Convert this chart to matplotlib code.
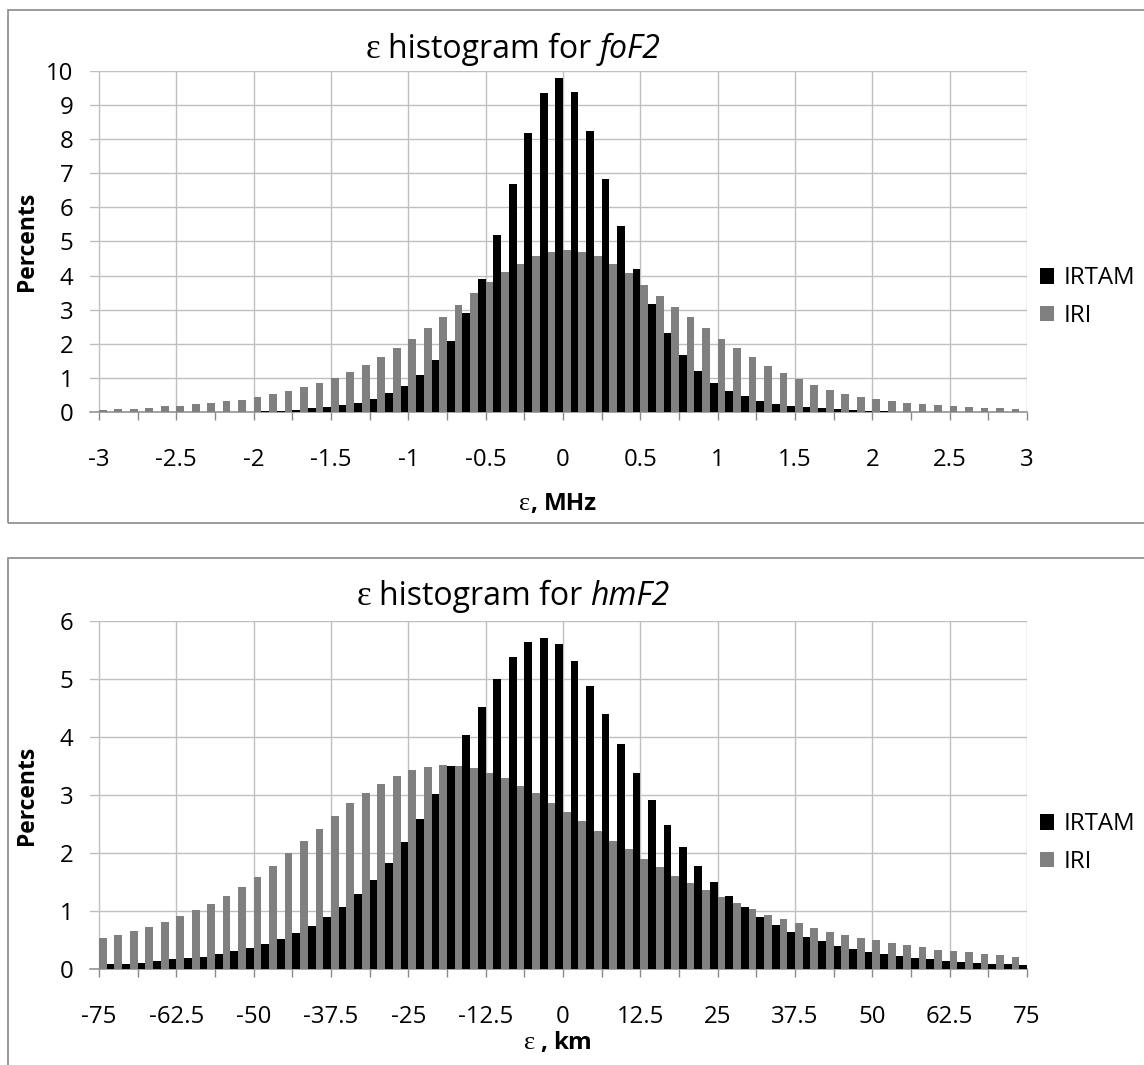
"""Two-panel error histograms (foF2 and hmF2) for IRTAM vs IRI."""

import numpy as np
import matplotlib
matplotlib.use('Agg')
import matplotlib.pyplot as plt
from matplotlib.patches import Rectangle

plt.rcParams['font.family'] = ['Open Sans', 'DejaVu Sans']

# --- data (percent of cases per bin) ---
fof2_bins = np.linspace(-3, 3, 61)  # bin centres, MHz
fof2_irtam = [0, 0, 0, 0, 0, 0, 0, 0.01, 0.01,
              0.02, 0.02, 0.04, 0.05, 0.07, 0.12, 0.15, 0.20, 0.27, 0.39, 0.56,
              0.77, 1.09, 1.52, 2.10, 2.90, 3.91, 5.19, 6.69, 8.17, 9.34,
              9.79,
              9.37, 8.23, 6.84, 5.44, 4.20, 3.16, 2.32, 1.68, 1.21, 0.87,
              0.62, 0.48, 0.34, 0.24, 0.19, 0.16, 0.12, 0.09, 0.07, 0.04,
              0.03, 0.02, 0.01, 0.01, 0.01, 0, 0, 0, 0, 0]
fof2_iri = [0.07, 0.10, 0.10, 0.13, 0.17, 0.19, 0.23, 0.27, 0.32, 0.36,
            0.45, 0.54, 0.62, 0.74, 0.85, 1.00, 1.18, 1.39, 1.63, 1.87,
            2.16, 2.47, 2.80, 3.14, 3.48, 3.80, 4.11, 4.35, 4.58, 4.68,
            4.75, 4.70, 4.58, 4.33, 4.07, 3.73, 3.40, 3.07, 2.78, 2.47,
            2.16, 1.87, 1.61, 1.37, 1.14, 0.97, 0.79, 0.66, 0.55, 0.45,
            0.39, 0.32, 0.27, 0.23, 0.21, 0.17, 0.15, 0.13, 0.13, 0.10,
            0.05]
fof2_ticklabels = ['-3', '-2.5', '-2', '-1.5', '-1', '-0.5', '0',
                   '0.5', '1', '1.5', '2', '2.5', '3']

hmf2_bins = np.linspace(-75, 75, 61)  # bin centres, km
hmf2_irtam = [0, 0.10, 0.10, 0.11, 0.14, 0.17, 0.20, 0.22, 0.26, 0.31,
              0.36, 0.44, 0.53, 0.62, 0.75, 0.90, 1.08, 1.30, 1.54, 1.84,
              2.19, 2.59, 3.03, 3.50, 4.04, 4.53, 5.01, 5.39, 5.65, 5.71,
              5.61, 5.31, 4.89, 4.41, 3.89, 3.39, 2.92, 2.48, 2.11, 1.78,
              1.50, 1.27, 1.08, 0.91, 0.77, 0.65, 0.56, 0.48, 0.41, 0.35,
              0.29, 0.26, 0.23, 0.19, 0.18, 0.15, 0.13, 0.11, 0.10, 0.09,
              0.08]
hmf2_iri = [0.54, 0.60, 0.66, 0.73, 0.81, 0.92, 1.02, 1.12, 1.27, 1.42,
            1.59, 1.78, 2.00, 2.21, 2.42, 2.64, 2.86, 3.04, 3.19, 3.33,
            3.43, 3.49, 3.52, 3.51, 3.47, 3.38, 3.29, 3.16, 3.04, 2.86,
            2.72, 2.55, 2.39, 2.21, 2.07, 1.91, 1.77, 1.61, 1.48, 1.36,
            1.24, 1.14, 1.04, 0.94, 0.87, 0.80, 0.71, 0.65, 0.60, 0.54,
            0.50, 0.45, 0.42, 0.38, 0.34, 0.32, 0.29, 0.26, 0.24, 0.22,
            0.19]
hmf2_ticklabels = ['-75', '-62.5', '-50', '-37.5', '-25', '-12.5', '0',
                   '12.5', '25', '37.5', '50', '62.5', '75']

W, H = 1144, 1065
fig = plt.figure(figsize=(W / 100, H / 100), dpi=100)
renderer = fig.canvas.get_renderer()


def fx(px):
    return px / W


def fy(py):
    return 1 - py / H


GRID = '#bfbfbf'
AXIS = '#8a8a8a'
FS = 17.3
SERIF = ['Liberation Serif', 'DejaVu Serif']


def rich_text(xc, ybase, parts):
    """Place pieces of text side by side on one baseline, centred on xc (px).
    parts: list of (gap_before_px, string, text kwargs)."""
    texts = []
    for gap, s, kw in parts:
        t = fig.text(0, fy(ybase), s, ha='left', va='baseline', **kw)
        texts.append((gap, t))
    widths = [t.get_window_extent(renderer).width for _, t in texts]
    total = sum(widths) + sum(g for g, _ in texts)
    x = xc - total / 2
    for (gap, t), w in zip(texts, widths):
        x += gap
        t.set_x(fx(x))
        x += w


def panel(top_px, bottom_px, bins, irtam, iri, ticklabels, ymax):
    ax = fig.add_axes([fx(90), fy(bottom_px), fx(1027) - fx(90),
                       (bottom_px - top_px) / H])
    step = bins[1] - bins[0]
    half = step / 2
    ax.bar(bins, irtam, width=-half, align='edge', color='black',
           label='IRTAM', zorder=3)
    ax.bar(bins, iri, width=half, align='edge', color='#808080',
           label='IRI', zorder=3)
    ax.set_xticks(bins[::5])
    ax.set_xticklabels(ticklabels)
    ax.set_xticks(bins[::5][1:] - step * 2.5, minor=True)
    ax.set_yticks(range(0, ymax + 1))
    ax.set_xlim(bins[0] - step * 0.58, bins[-1])
    ax.set_ylim(0, ymax)
    ax.grid(which='major', color=GRID, linewidth=1.0, zorder=0)
    for s in ('top', 'right', 'left'):
        ax.spines[s].set_visible(False)
    ax.spines['bottom'].set_color(AXIS)
    ax.spines['bottom'].set_linewidth(1.1)
    ax.tick_params(axis='x', which='both', direction='out', length=5.8,
                   color=AXIS, width=1.0, labelsize=FS, pad=20)
    ax.tick_params(axis='y', length=0, labelsize=FS, pad=12)
    ax.set_axisbelow(True)

    fig.text(fx(27), fy((top_px + bottom_px) / 2), 'Percents', fontsize=16.5,
             fontweight='bold', rotation=90, ha='center', va='center')
    return ax


# panel frames
fig.add_artist(Rectangle((fx(8), fy(523)), fx(1150) - fx(8), (523 - 10) / H,
                         transform=fig.transFigure, fill=False,
                         edgecolor=AXIS, linewidth=1.2))
fig.add_artist(Rectangle((fx(8), fy(1070)), fx(1150) - fx(8), (1070 - 558) / H,
                         transform=fig.transFigure, fill=False,
                         edgecolor=AXIS, linewidth=1.2))

ax1 = panel(70.7, 412.3, fof2_bins, fof2_irtam, fof2_iri, fof2_ticklabels, 10)
ax2 = panel(621.3, 969.3, hmf2_bins, hmf2_irtam, hmf2_iri, hmf2_ticklabels, 6)

for ax, ly in ((ax1, 297), (ax2, 843)):
    ax.legend(loc='center left', bbox_to_anchor=(fx(1040), fy(ly)),
              bbox_transform=fig.transFigure, frameon=False, fontsize=FS,
              handlelength=0.6, handleheight=0.6, handletextpad=0.4,
              labelspacing=0.55, borderpad=0, borderaxespad=0)

# titles: serif epsilon, regular text, italic parameter name
for ybase, name in ((58, 'foF2'), (605, 'hmF2')):
    rich_text(513, ybase, [
        (0, 'ε', dict(fontsize=25, family=SERIF)),
        (8, 'histogram for', dict(fontsize=23)),
        (8, name, dict(fontsize=23, style='italic')),
    ])

# x-axis labels: regular epsilon followed by bold units
rich_text(558, 510, [
    (0, 'ε', dict(fontsize=19, family=SERIF)),
    (0, ',', dict(fontsize=17.5, fontweight='bold')),
    (6, 'MHz', dict(fontsize=17.5, fontweight='bold')),
])
rich_text(558, 1049, [
    (0, 'ε', dict(fontsize=19, family=SERIF)),
    (5, ',', dict(fontsize=17.5, fontweight='bold')),
    (6, 'km', dict(fontsize=17.5, fontweight='bold')),
])

plt.savefig('out.png', dpi=100)
